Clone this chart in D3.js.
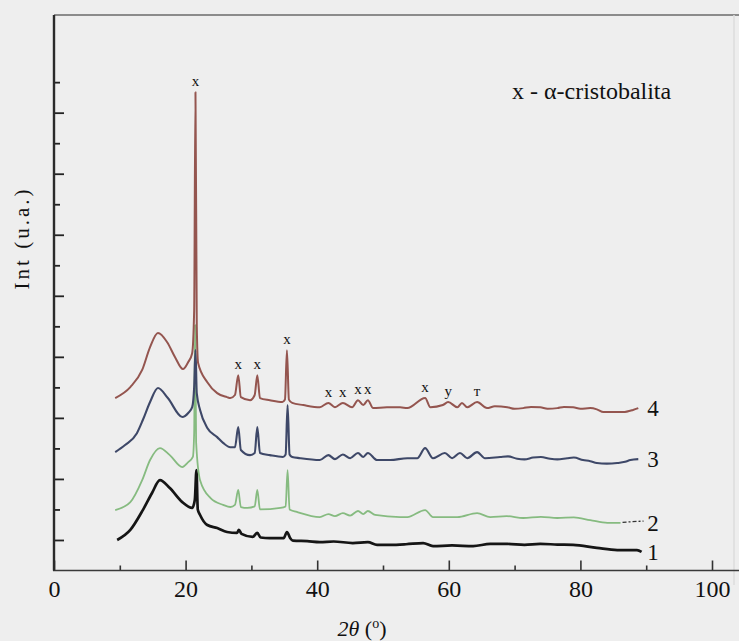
<!DOCTYPE html>
<html>
<head>
<meta charset="utf-8">
<script src="https://cdn.jsdelivr.net/npm/d3@7"></script>
<style>
  html, body { margin: 0; padding: 0; background: #eeeeee; }
  svg { display: block; }
  text { font-family: "Liberation Serif", "DejaVu Serif", serif; fill: #111; }
</style>
</head>
<body>
<svg id="chart" width="739" height="641"></svg>
<script>
// XRD patterns: [2θ (degrees), intensity (a.u., stacked)]
const pattern1 = [[9.6,1.00],[11.6,1.33],[13.5,1.98],[14.9,2.54],[16.1,2.96],[17.6,2.70],[19.5,2.24],[21.0,2.05],[21.4,2.31],[21.65,3.29],[21.85,2.0],[22.2,1.82],[23.3,1.49],[24.8,1.39],[26.3,1.26],[27.8,1.23],[28.1,1.33],[28.5,1.20],[30.2,1.10],[30.9,1.23],[31.4,1.08],[32.8,1.06],[34.9,1.06],[35.4,1.26],[35.9,1.06],[36.3,0.98],[38.5,0.96],[40.4,0.93],[42.5,0.95],[45.4,0.90],[47.7,0.93],[49.1,0.84],[51.1,0.84],[53.5,0.86],[56.1,0.90],[57.6,0.80],[60.5,0.82],[63.7,0.80],[66.3,0.87],[68.9,0.87],[71.5,0.84],[73.9,0.87],[76.5,0.85],[78.9,0.84],[82.5,0.74],[85.6,0.67],[88.6,0.67],[89.3,0.61]];

const pattern2 = [[9.3,1.98],[11.6,2.24],[13.4,2.96],[14.6,3.62],[16.1,4.01],[17.6,3.78],[19.5,3.39],[20.4,3.55],[21.1,3.72],[21.3,4.5],[21.45,8.04],[21.6,4.2],[22.2,2.96],[23.8,2.37],[25.7,2.15],[26.8,2.08],[27.5,2.15],[28.0,2.64],[28.4,2.08],[29.4,2.05],[30.5,2.1],[30.9,2.64],[31.3,2.0],[34.4,2.05],[35.2,2.1],[35.5,3.29],[35.8,2.0],[36.9,1.92],[40.4,1.75],[41.7,1.85],[42.7,1.78],[43.9,1.88],[45.0,1.80],[46.2,1.95],[47.0,1.85],[47.7,1.95],[48.8,1.82],[52.6,1.75],[53.7,1.75],[56.4,1.98],[57.6,1.75],[61.3,1.75],[64.3,1.88],[66.3,1.75],[68.8,1.78],[71.3,1.72],[74.0,1.76],[76.5,1.72],[79.0,1.74],[81.5,1.65],[84.1,1.56],[86.1,1.56]];

const pattern3 = [[9.3,3.88],[10.8,4.11],[12.6,4.50],[13.5,4.93],[14.6,5.52],[15.8,5.98],[17.3,5.65],[19.5,5.03],[20.4,5.16],[21.0,5.35],[21.3,6.0],[21.5,7.22],[21.7,5.8],[22.2,5.26],[23.3,4.67],[24.8,4.37],[25.7,4.18],[26.8,4.04],[27.5,4.04],[28.0,4.70],[28.4,3.95],[29.8,3.78],[30.5,3.85],[30.9,4.70],[31.3,3.85],[32.8,3.78],[34.8,3.72],[35.2,3.8],[35.5,5.42],[35.8,3.8],[36.2,3.72],[37.4,3.68],[40.4,3.62],[41.7,3.78],[42.7,3.65],[43.9,3.80],[45.0,3.68],[46.2,3.85],[47.0,3.72],[47.7,3.85],[49.1,3.62],[51.1,3.62],[53.7,3.68],[55.2,3.68],[56.4,4.01],[57.6,3.68],[59.4,3.85],[60.5,3.68],[61.7,3.85],[62.8,3.68],[64.3,3.88],[65.5,3.68],[67.8,3.72],[69.0,3.74],[70.4,3.66],[71.5,3.64],[72.8,3.70],[74.0,3.72],[75.4,3.66],[76.5,3.64],[78.0,3.68],[79.0,3.70],[80.4,3.62],[81.5,3.58],[82.5,3.52],[84.0,3.50],[85.6,3.52],[86.8,3.56],[87.6,3.62],[88.8,3.65]];

const pattern4 = [[9.3,5.65],[11.6,6.01],[13.4,6.57],[14.6,7.32],[15.8,7.78],[17.2,7.48],[18.4,6.99],[19.6,6.60],[20.4,6.83],[21.0,7.12],[21.3,8.5],[21.5,15.67],[21.7,8.0],[21.9,6.80],[23.3,6.17],[24.8,5.81],[26.3,5.68],[26.8,5.65],[27.5,5.75],[28.0,6.40],[28.4,5.68],[29.8,5.58],[30.5,5.75],[30.9,6.40],[31.3,5.65],[32.8,5.58],[34.7,5.52],[35.1,5.6],[35.4,7.22],[35.7,5.6],[36.2,5.49],[37.9,5.42],[40.4,5.35],[41.7,5.49],[42.7,5.35],[43.9,5.49],[45.3,5.35],[46.2,5.58],[47.0,5.42],[47.7,5.58],[48.5,5.32],[50.6,5.35],[52.6,5.35],[53.7,5.32],[56.4,5.65],[57.2,5.35],[59.1,5.42],[59.9,5.52],[61.3,5.35],[62.0,5.49],[62.8,5.35],[64.3,5.52],[65.8,5.32],[67.0,5.38],[68.9,5.35],[70.0,5.30],[71.3,5.32],[72.5,5.36],[73.9,5.35],[75.0,5.30],[76.5,5.32],[77.5,5.36],[78.9,5.35],[80.0,5.30],[81.5,5.32],[82.5,5.28],[83.5,5.19],[86.5,5.19],[88.0,5.26],[88.8,5.32]];

const seriesNames = ["1", "2", "3", "4"];
const seriesColors = ["#151515", "#86bb80", "#3e4868", "#94554f"];

// α-cristobalite reflections marked on pattern 4
const peakAngles = [21.5, 28.0, 30.9, 35.4, 41.7, 43.9, 46.2, 47.7, 56.4, 59.9, 64.3];
const peakMarks  = ["x", "x", "x", "x", "x", "x", "x", "x", "x", "y", "т"];

const xMajorTicks = [0, 20, 40, 60, 80, 100];
const xMinorTicks = [10, 30, 50, 70, 90];
const yMajorTicks = [1, 3, 5, 7, 9, 11, 13, 15];
const yMinorTicks = [2, 4, 6, 8, 10, 12, 14, 16];

const legendText = "x - α-cristobalita";
const xTitle = ["2θ", " (", "o", ")"];
const yTitle = "Int (u.a.)";

const svg = d3.select("#chart");
const W = 739, H = 641;
const plotLeft = 54, plotRight = 712, plotTop = 15, plotBottom = 570.5;

const x = d3.scaleLinear().domain([0, 100]).range([plotLeft, plotRight]);
const y = d3.scaleLinear().domain([0, 18.2]).range([plotBottom, plotTop]);

svg.append("rect").attr("width", W).attr("height", H).attr("fill", "#eeeeee");

// frame lines
svg.append("line").attr("x1", plotLeft).attr("x2", W).attr("y1", plotTop).attr("y2", plotTop)
  .attr("stroke", "#6a6a6a").attr("stroke-width", 1.6);
svg.append("line").attr("x1", 734).attr("x2", 734).attr("y1", plotTop).attr("y2", 585)
  .attr("stroke", "#dcdcdc").attr("stroke-width", 1.5);

// x axis: major ticks with labels, minor ticks without
const gx = svg.append("g").attr("transform", `translate(0,${plotBottom})`);
gx.call(d3.axisBottom(x).tickValues(xMajorTicks).tickSize(-10).tickPadding(9).tickFormat(d3.format("d")));
gx.append("g").call(d3.axisBottom(x).tickValues(xMinorTicks).tickSize(-5).tickFormat(""));
gx.selectAll(".domain").remove();
gx.selectAll("line").attr("stroke", "#333").attr("stroke-width", 1.6);
gx.selectAll("text").attr("font-size", 24).attr("fill", "#111")
  .attr("font-family", "Liberation Serif, serif");
svg.append("line").attr("x1", plotLeft - 1).attr("x2", W).attr("y1", plotBottom).attr("y2", plotBottom)
  .attr("stroke", "#3a3a3a").attr("stroke-width", 1.6);

// y axis: inward ticks, no labels
const gy = svg.append("g").attr("transform", `translate(${plotLeft},0)`);
gy.call(d3.axisLeft(y).tickValues(yMajorTicks).tickSize(-10).tickFormat(""));
gy.append("g").call(d3.axisLeft(y).tickValues(yMinorTicks).tickSize(-6).tickFormat(""));
gy.selectAll(".domain").remove();
gy.selectAll("line").attr("stroke", "#222").attr("stroke-width", 1.8);
svg.append("line").attr("x1", plotLeft).attr("x2", plotLeft).attr("y1", plotTop).attr("y2", plotBottom)
  .attr("stroke", "#2a2a2a").attr("stroke-width", 2.4);

// patterns
const line = d3.line().curve(d3.curveMonotoneX).x(d => x(d[0])).y(d => y(d[1]));
const patterns = [pattern1, pattern2, pattern3, pattern4];
const widths = [2.7, 1.8, 2.1, 2.0];
patterns.forEach((p, i) => {
  svg.append("path").datum(p)
    .attr("d", line)
    .attr("fill", "none")
    .attr("stroke", seriesColors[i])
    .attr("stroke-width", widths[i])
    .attr("stroke-linejoin", "round");
});

// thin leader after pattern 2 toward its label
const p2end = pattern2[pattern2.length - 1];
svg.append("line")
  .attr("x1", x(p2end[0]) + 2).attr("x2", x(89.6))
  .attr("y1", y(p2end[1] + 0.02)).attr("y2", y(p2end[1] + 0.06))
  .attr("stroke", "#333").attr("stroke-width", 1.3).attr("stroke-dasharray", "4,2,2,2");

// series labels at the right end of each pattern
patterns.forEach((p, i) => {
  const last = p[p.length - 1];
  svg.append("text")
    .attr("x", x(90) + 1)
    .attr("y", y(last[1]) + 8)
    .attr("font-size", 23)
    .text(seriesNames[i]);
});

// peak markers above pattern 4
function peakValue(p, a) {
  return d3.max(p.filter(d => Math.abs(d[0] - a) < 0.35), d => d[1]);
}
peakAngles.forEach((a, i) => {
  svg.append("text")
    .attr("x", x(a))
    .attr("y", y(peakValue(pattern4, a)) - 6)
    .attr("text-anchor", "middle")
    .attr("font-size", 15)
    .attr("fill", "#222")
    .text(peakMarks[i]);
});

// legend note
svg.append("text").attr("x", 512).attr("y", 99).attr("font-size", 24).text(legendText);

// axis titles
const xt = svg.append("text").attr("x", 362).attr("y", 636).attr("text-anchor", "middle").attr("font-size", 22);
xt.append("tspan").attr("font-style", "italic").text(xTitle[0]);
xt.append("tspan").text(xTitle[1]);
xt.append("tspan").attr("font-size", 14).attr("dy", -8).text(xTitle[2]);
xt.append("tspan").attr("dy", 8).text(xTitle[3]);

svg.append("text")
  .attr("transform", "translate(29,238) rotate(-90)")
  .attr("text-anchor", "middle")
  .attr("font-size", 21)
  .attr("letter-spacing", 3)
  .text(yTitle);
</script>
</body>
</html>
